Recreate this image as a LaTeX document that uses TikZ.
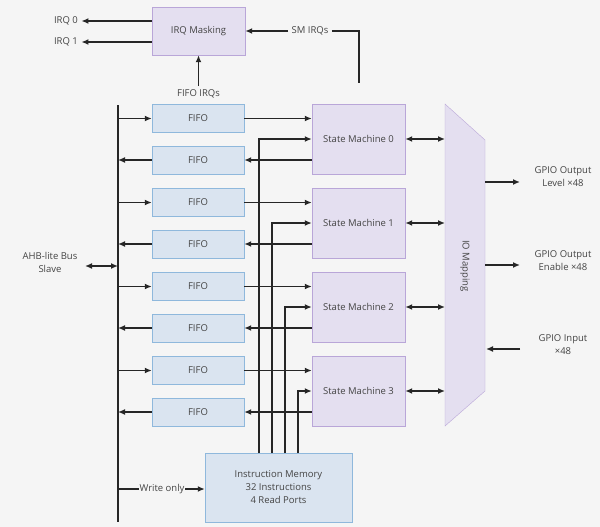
\documentclass[tikz,border=0pt]{standalone}
\usepackage{fontspec}
\setmainfont{Open Sans}
\usetikzlibrary{arrows.meta,positioning}
\definecolor{fifofill}{HTML}{DAE4F0}
\definecolor{fifodraw}{HTML}{8FB8DC}
\definecolor{smfill}{HTML}{E4DFF0}
\definecolor{smdraw}{HTML}{B9A6D8}
\definecolor{txt}{HTML}{444444}
\definecolor{bg}{HTML}{F5F5F5}
\begin{document}
\begin{tikzpicture}[x=1pt,y=-1pt,% styles for all boxes and connectors
		every node/.style={
			align=center,		% lets "\\" break lines
			font=\fontsize{9.5}{13}\selectfont,
			text=txt
		},
		fifo/.style={rectangle,draw=fifodraw,fill=fifofill,minimum width=92pt,minimum height=28pt},
		sm/.style={rectangle,draw=smdraw,fill=smfill,minimum width=93pt,minimum height=70pt},
		wire/.style={draw=black!85,line width=1.4pt,-{Latex[length=7pt,width=6pt]}},
		both/.style={draw=black!85,line width=1.4pt,{Latex[length=7pt,width=6pt]}-{Latex[length=7pt,width=6pt]}},
		plain/.style={draw=black!85,line width=1.4pt}
	]
	\fill[bg] (0,0) rectangle (600,527);
	\useasboundingbox (0,0) rectangle (600,527);
	% interrupt block
	\node[rectangle,draw=smdraw,fill=smfill,minimum width=93pt,minimum height=48pt](IRQ) at (198.5,31){IRQ Masking};
	\node(I0) at (66,21){IRQ 0};
	\node(I1) at (66,42){IRQ 1};
	\node(SMI) at (310,31){SM IRQs};
	\node(FI) at (198.5,94){FIFO IRQs};
	\coordinate(C0) at (359,31);
	\coordinate(C1) at (359,83);
	\draw[wire] (IRQ.west|-I0) -- (I0.east);
	\draw[wire] (IRQ.west|-I1) -- (I1.east);
	\draw[wire] (SMI.west) -- (IRQ.east|-SMI);
	\draw[plain] (SMI.east) -- (C0) -- (C1);
	\draw[wire] (FI.north) -- (IRQ.south);
	% bus
	\coordinate(BT) at (118,105);
	\coordinate(BB) at (118,522);
	\draw[plain] (BT) -- (BB);
	\node(AHB) at (50,262){AHB-lite Bus\\Slave};
	\draw[both] (85,266) -- (118,266);
	% fifos and state machines
	\foreach \i in {0,...,3}{
		\node[fifo](TX\i) at (198,{118.5+84*\i}){FIFO};
		\node[fifo](RX\i) at (198,{160+84*\i}){FIFO};
		\node[sm](SM\i) at (358.5,{139+84*\i}){State Machine \i};
		\draw[wire] (118,{118.5+84*\i}) -- (TX\i.west);
		\draw[wire] (RX\i.west) -- (118,{160+84*\i});
		\draw[wire] (TX\i.east) -- (SM\i.west|-TX\i);
		\draw[wire] (SM\i.west|-RX\i) -- (RX\i.east);
		\draw[both] (SM\i.east) -- (445,{139+84*\i});
	}
	% instruction memory
	\node[rectangle,draw=fifodraw,fill=fifofill,minimum width=147pt,minimum height=69pt](IM) at (278.5,487.5){Instruction Memory\\32 Instructions\\4 Read Ports};
	\foreach \i/\x in {0/259,1/272,2/285,3/298}{
		\draw[wire] (\x,453) |- (SM\i.west);
	}
	\draw[wire] (118,489) -- (IM.west|-0,489);
	\node[fill=bg,inner sep=1pt](WO) at (162,489){Write only};
	% io mapping
	\draw[draw=smdraw,fill=smfill] (445,104) -- (485,140) -- (485,391) -- (445,426) -- cycle;
	\node[rotate=-90](IO) at (465,266){IO Mapping};
	\node(GL) at (563,177){GPIO Output\\Level ×48};
	\node(GE) at (563,261){GPIO Output\\Enable ×48};
	\node(GI) at (563,345){GPIO Input\\×48};
	\draw[wire] (485,182) -- (520,182);
	\draw[wire] (485,265) -- (520,265);
	\draw[wire] (520,349) -- (486,349);
\end{tikzpicture}
\end{document}
